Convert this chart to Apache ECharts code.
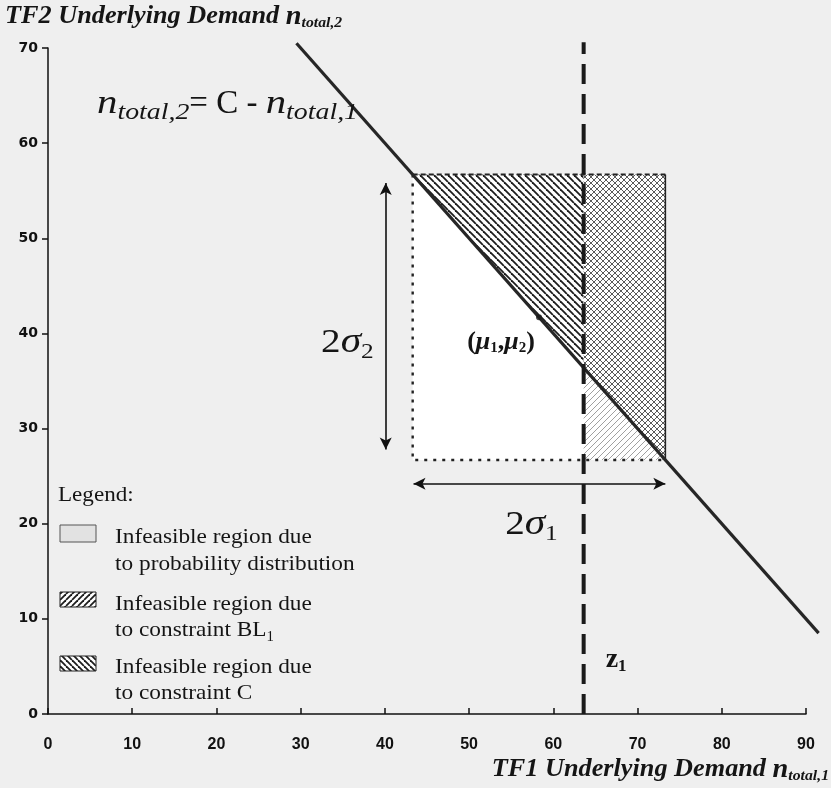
<!DOCTYPE html>
<html>
<head>
<meta charset="utf-8">
<script src="https://cdn.jsdelivr.net/npm/echarts@6/dist/echarts.min.js"></script>
<style>
  html, body { margin: 0; padding: 0; background: #efefef; }
  #chart { width: 831px; height: 788px; }
</style>
</head>
<body>
<div id="chart"></div>
<script>
// ---- values ----
const xTicks = [0, 10, 20, 30, 40, 50, 60, 70, 80, 90];
const yTicks = [0, 10, 20, 30, 40, 50, 60, 70];
const capacityC = 100;              // n_total,2 = C - n_total,1
const capacityLineX = [29.5, 91.5]; // drawn extent of the capacity line along n_total,1
const mu = [58.3, 41.7];            // (mu_1, mu_2)
const sigma = [15, 15];             // sigma_1, sigma_2
const z1 = 63.6;                    // BL_1 threshold on n_total,1
const z1Top = 70.6;                 // how far the z1 line runs up
const sigma2ArrowX = 40.1;          // n_total,1 where the 2*sigma_2 arrow sits
const sigma2ArrowY = [55.8, 27.8];
const sigma1ArrowY = 24.2;          // n_total,2 where the 2*sigma_1 arrow sits
const sigma1ArrowX = [43.4, 73.3];

// ---- derived geometry ----
const xLo = mu[0] - sigma[0], xHi = mu[0] + sigma[0];
const yLo = mu[1] - sigma[1], yHi = mu[1] + sigma[1];
const onC = x => capacityC - x;

// ---- hatch patterns ----
function hatch(dirs, size, color, width, bg) {
  const c = document.createElement('canvas');
  c.width = size; c.height = size;
  const g = c.getContext('2d');
  g.fillStyle = bg; g.fillRect(0, 0, size, size);
  g.strokeStyle = color; g.lineWidth = width;
  for (const d of dirs) {
    for (let k = -1; k <= 1; k++) {
      g.beginPath();
      if (d === '\\') { g.moveTo(k * size, 0); g.lineTo(k * size + size, size); }
      else { g.moveTo(k * size, size); g.lineTo(k * size + size, 0); }
      g.stroke();
    }
  }
  return { image: c, repeat: 'repeat' };
}
const hatchC = hatch(['\\'], 7, '#1c1c1c', 1.8, '#ffffff');
const hatchBoth = hatch(['\\', '/'], 6, '#5a5a5a', 1.0, '#ffffff');
const hatchBL = hatch(['/'], 6, '#a0a0a0', 1.0, '#ffffff');
const legendBL = hatch(['/'], 6, '#1c1c1c', 1.8, '#ffffff');
const legendC = hatch(['\\'], 6, '#1c1c1c', 1.8, '#ffffff');

const regions = [
  { pts: [[xLo, yLo], [xHi, yLo], [xHi, yHi], [xLo, yHi]], fill: '#ffffff' },
  { pts: [[onC(yHi), yHi], [z1, yHi], [z1, onC(z1)]], fill: hatchC },
  { pts: [[z1, yHi], [xHi, yHi], [xHi, onC(xHi)], [z1, onC(z1)]], fill: hatchBoth },
  { pts: [[z1, onC(z1)], [xHi, yLo], [z1, yLo]], fill: hatchBL }
];

const chart = echarts.init(document.getElementById('chart'), null, { renderer: 'canvas' });

const serif = 'Liberation Serif';
const option = {
  backgroundColor: '#efefef',
  animation: false,
  grid: { left: 48, right: 25, top: 48, bottom: 74, containLabel: false },
  xAxis: {
    type: 'value', min: xTicks[0], max: xTicks[xTicks.length - 1], interval: 10,
    axisLine: { lineStyle: { color: '#111', width: 1.5 } },
    axisTick: { inside: true, length: 6, lineStyle: { color: '#111', width: 1.5 } },
    axisLabel: { color: '#111', fontFamily: 'Liberation Sans', fontWeight: 'bold', fontSize: 16, margin: 23 },
    splitLine: { show: false }
  },
  yAxis: {
    type: 'value', min: yTicks[0], max: yTicks[yTicks.length - 1], interval: 10,
    axisLine: { show: true, lineStyle: { color: '#111', width: 1.5 } },
    axisTick: { show: true, length: 6, lineStyle: { color: '#111', width: 1.5 } },
    axisLabel: { color: '#111', fontFamily: 'DejaVu Sans', fontWeight: 'bold', fontSize: 14, margin: 10 },
    splitLine: { show: false }
  },
  series: [
    {
      type: 'custom', name: 'regions', silent: true, clip: false, z: 1,
      data: regions.map((r, i) => i),
      renderItem: (params, api) => {
        const r = regions[params.dataIndex];
        return {
          type: 'polygon',
          shape: { points: r.pts.map(p => api.coord(p)) },
          style: { fill: r.fill, stroke: null }
        };
      }
    },
    {
      type: 'custom', name: 'box', silent: true, clip: false, z: 3,
      data: [0],
      renderItem: (params, api) => {
        const tl = api.coord([xLo, yHi]), tr = api.coord([xHi, yHi]);
        const bl = api.coord([xLo, yLo]), br = api.coord([xHi, yLo]);
        return {
          type: 'group',
          children: [
            { type: 'polyline', shape: { points: [tl, tr] }, style: { stroke: '#222', lineWidth: 2, lineDash: [5, 3], fill: null } },
            { type: 'polyline', shape: { points: [tr, br] }, style: { stroke: '#222', lineWidth: 1.6, fill: null } },
            { type: 'polyline', shape: { points: [tl, bl, br] }, style: { stroke: '#222', lineWidth: 2.4, lineDash: [3, 6], fill: null } }
          ]
        };
      }
    },
    {
      type: 'custom', name: 'capacity', silent: true, clip: false, z: 4,
      data: [capacityLineX],
      renderItem: (params, api) => ({
        type: 'polyline',
        shape: { points: capacityLineX.map(x => api.coord([x, onC(x)])) },
        style: { stroke: '#262626', lineWidth: 3.2, fill: null }
      })
    },
    {
      type: 'line', name: 'z1', clip: false, symbol: 'none', silent: true, z: 5,
      data: [[z1, 0], [z1, z1Top]],
      lineStyle: { color: '#1a1a1a', width: 4, type: [20, 10] }
    },
    {
      type: 'line', name: 'arrows', clip: false, symbol: 'none', silent: true, z: 5,
      data: [],
      markLine: {
        silent: true, symbol: ['arrow', 'arrow'], symbolSize: [9, 12],
        label: { show: false },
        lineStyle: { color: '#111', width: 1.6, type: 'solid' },
        data: [
          [{ coord: [sigma2ArrowX, sigma2ArrowY[0]] }, { coord: [sigma2ArrowX, sigma2ArrowY[1]] }],
          [{ coord: [sigma1ArrowX[0], sigma1ArrowY] }, { coord: [sigma1ArrowX[1], sigma1ArrowY] }]
        ]
      }
    },
    {
      type: 'scatter', name: 'mu', symbolSize: 6, silent: true, z: 6,
      itemStyle: { color: '#1a1a1a' },
      data: [mu]
    }
  ]
};
chart.setOption(option);

// ---- text runs with sub-scripts; sx stretches glyphs horizontally ----
const mctx = document.createElement('canvas').getContext('2d');
function runs(x, y, parts, align, sx0) {
  const widths = parts.map(p => {
    mctx.font = `${p.style || 'normal'} ${p.weight || 'normal'} ${p.size}px "${p.family || serif}"`;
    return mctx.measureText(p.text).width * (p.sx || sx0 || 1);
  });
  const total = widths.reduce((a, b) => a + b, 0);
  let cx = align === 'right' ? x - total : align === 'center' ? x - total / 2 : x;
  return parts.map((p, i) => {
    const el = {
      type: 'text', x: cx, y: y + (p.dy || 0), scaleX: p.sx || sx0 || 1, silent: true, z: 10,
      style: {
        text: p.text, fill: p.color || '#151515',
        fontFamily: p.family || serif, fontSize: p.size,
        fontWeight: p.weight || 'normal', fontStyle: p.style || 'normal',
        align: 'left', verticalAlign: 'middle'
      }
    };
    cx += widths[i];
    return el;
  });
}

const px = p => chart.convertToPixel({ gridIndex: 0 }, p);
const muPx = px(mu);
const s2Px = px([sigma2ArrowX, (sigma2ArrowY[0] + sigma2ArrowY[1]) / 2]);
const s1Px = px([(sigma1ArrowX[0] + sigma1ArrowX[1]) / 2, sigma1ArrowY]);
const z1Px = px([z1, 0]);

const B = { weight: 'bold', style: 'italic' };
const elements = [
  // axis titles
  ...runs(5, 17, [
    { text: 'TF2 Underlying Demand ', size: 25, ...B },
    { text: 'n', size: 27, ...B },
    { text: 'total,2', size: 15, ...B, dy: 6 }
  ], 'left', 1.05),
  ...runs(829, 770, [
    { text: 'TF1 Underlying Demand ', size: 25, ...B },
    { text: 'n', size: 27, ...B },
    { text: 'total,1', size: 15, ...B, dy: 6 }
  ], 'right', 1.05),
  // capacity constraint equation
  ...runs(97, 104, [
    { text: 'n', size: 34, style: 'italic', sx: 1.2 },
    { text: 'total,2', size: 24, style: 'italic', dy: 9, sx: 1.16 },
    { text: '= C - ', size: 33, sx: 1.0 },
    { text: 'n', size: 34, style: 'italic', sx: 1.2 },
    { text: 'total,1', size: 24, style: 'italic', dy: 9, sx: 1.16 }
  ], 'left'),
  // annotations
  ...runs(s2Px[0] - 12, 343, [
    { text: '2', size: 34 },
    { text: 'σ', size: 36, style: 'italic' },
    { text: '2', size: 22, dy: 9 }
  ], 'right', 1.15),
  ...runs(s1Px[0] - 8, s1Px[1] + 41, [
    { text: '2', size: 34 },
    { text: 'σ', size: 36, style: 'italic' },
    { text: '1', size: 22, dy: 9 }
  ], 'center', 1.15),
  ...runs(muPx[0] - 38, muPx[1] + 25, [
    { text: '(', size: 26, weight: 'bold' },
    { text: 'μ', size: 26, weight: 'bold', style: 'italic' },
    { text: '1', size: 15, weight: 'bold', dy: 6 },
    { text: ',', size: 26, weight: 'bold' },
    { text: 'μ', size: 26, weight: 'bold', style: 'italic' },
    { text: '2', size: 15, weight: 'bold', dy: 6 },
    { text: ')', size: 26, weight: 'bold' }
  ], 'center'),
  ...runs(z1Px[0] + 22, 660, [
    { text: 'z', size: 28, weight: 'bold' },
    { text: '1', size: 17, weight: 'bold', dy: 7 }
  ]),
  // legend
  ...runs(58, 495, [{ text: 'Legend:', size: 22 }], 'left', 1.05),
  { type: 'rect', shape: { x: 60, y: 525, width: 36, height: 17 }, style: { fill: '#e2e2e2', stroke: '#555', lineWidth: 1 }, z: 10, silent: true },
  ...runs(115, 537, [{ text: 'Infeasible region due', size: 22 }], 'left', 1.06),
  ...runs(115, 564, [{ text: 'to probability distribution', size: 22 }], 'left', 1.06),
  { type: 'rect', shape: { x: 60, y: 592, width: 36, height: 15 }, style: { fill: legendBL, stroke: '#222', lineWidth: 1 }, z: 10, silent: true },
  ...runs(115, 604, [{ text: 'Infeasible region due', size: 22 }], 'left', 1.06),
  ...runs(115, 630, [
    { text: 'to constraint BL', size: 22 },
    { text: '1', size: 14, dy: 7 }
  ], 'left', 1.06),
  { type: 'rect', shape: { x: 60, y: 656, width: 36, height: 15 }, style: { fill: legendC, stroke: '#222', lineWidth: 1 }, z: 10, silent: true },
  ...runs(115, 667, [{ text: 'Infeasible region due', size: 22 }], 'left', 1.06),
  ...runs(115, 693, [{ text: 'to constraint C', size: 22 }], 'left', 1.06)
];

chart.setOption({ graphic: { elements } });
</script>
</body>
</html>
